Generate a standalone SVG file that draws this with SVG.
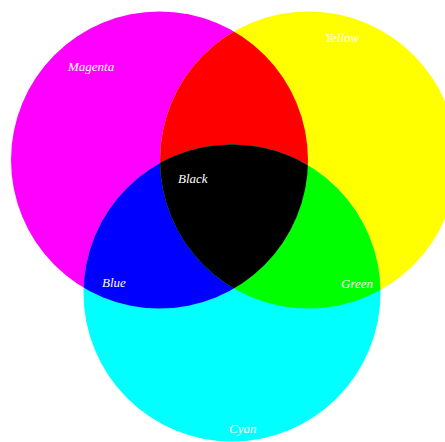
<svg xmlns="http://www.w3.org/2000/svg" width="445" height="442" viewBox="0 0 445 442">
<style>
text{font-family:"Liberation Serif","Times New Roman",serif;font-style:italic;font-size:13px;fill:#fff}
</style>
<defs>
<clipPath id="cm"><circle cx="159.5" cy="160" r="148.5"/></clipPath>
<clipPath id="cy"><circle cx="308.5" cy="160" r="148.5"/></clipPath>
</defs>
<rect width="445" height="442" fill="#fff"/>
<g id="magenta"><circle cx="159.5" cy="160" r="148.5" fill="#f0f"/></g>
<g id="yellow"><circle cx="308.5" cy="160" r="148.5" fill="#ff0"/></g>
<g id="cyan"><circle cx="232" cy="293" r="148.5" fill="#0ff"/></g>
<g id="red"><circle cx="308.5" cy="160" r="148.5" fill="#f00" clip-path="url(#cm)"/></g>
<g id="blue"><circle cx="232" cy="293" r="148.5" fill="#00f" clip-path="url(#cm)"/></g>
<g id="green"><circle cx="232" cy="293" r="148.5" fill="#0f0" clip-path="url(#cy)"/></g>
<g id="black" clip-path="url(#cy)"><circle cx="232" cy="293" r="148.5" fill="#000" clip-path="url(#cm)"/></g>
<g id="labels">
<text x="68" y="71">Magenta</text>
<text x="325" y="42">Yellow</text>
<text x="178" y="183">Black</text>
<text x="102" y="287">Blue</text>
<text x="341" y="288">Green</text>
<text x="229" y="433">Cyan</text>
</g>
</svg>
